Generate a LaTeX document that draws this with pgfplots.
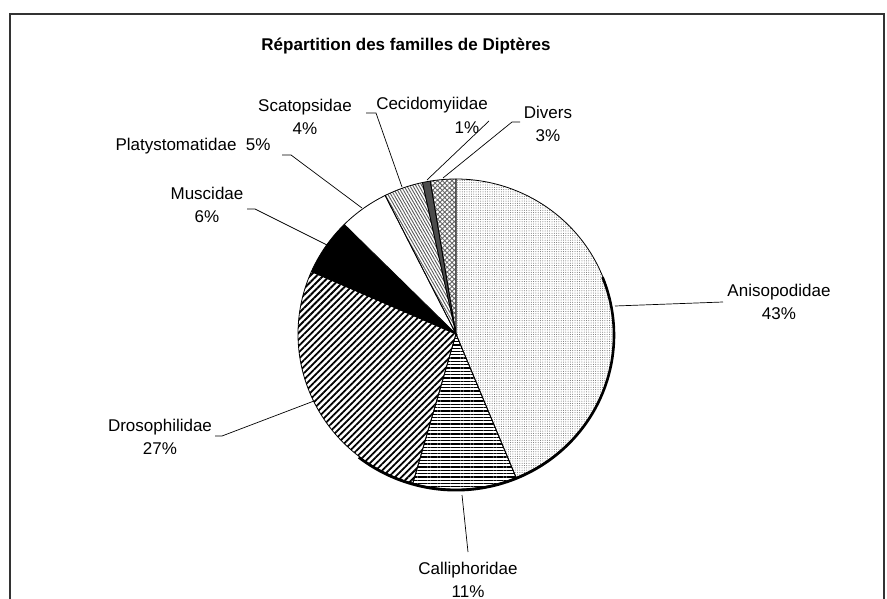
\documentclass[border=0pt]{standalone}
\usepackage{pgfplots}
\pgfplotsset{compat=1.18}
\usepackage{fontspec}
\setmainfont{Liberation Sans}
\usetikzlibrary{patterns,patterns.meta}

% shares (percent)
\def\pAniso{43.8}
\def\pCalli{10.6}
\def\pDroso{27.2}
\def\pMusc{5.9}
\def\pPlaty{5.1}
\def\pScato{4.0}
\def\pCecid{0.8}
\def\pDivers{2.6}

\pgfmathsetmacro\aA{90}
\pgfmathsetmacro\aB{\aA-3.6*\pAniso}
\pgfmathsetmacro\aC{\aB-3.6*\pCalli}
\pgfmathsetmacro\aD{\aC-3.6*\pDroso}
\pgfmathsetmacro\aE{\aD-3.6*\pMusc}
\pgfmathsetmacro\aF{\aE-3.6*\pPlaty}
\pgfmathsetmacro\aG{\aF-3.6*\pScato}
\pgfmathsetmacro\aH{\aG-3.6*\pCecid}
\pgfmathsetmacro\aI{\aH-3.6*\pDivers}

\def\cx{456}\def\cy{334}\def\rx{158}\def\ry{155}

\newcommand\slice[3]{%
  \addplot[#3, domain=#1:#2, samples=90, variable=\t]
    ({\cx+\rx*cos(t)},{\cy-\ry*sin(t)}) -- (axis cs:\cx,\cy) -- cycle;}

\begin{document}
\begin{tikzpicture}
\begin{axis}[
  x=1pt, y=1pt, y dir=reverse,
  xmin=0, xmax=887, ymin=0, ymax=599,
  hide axis, clip=true,
  scale only axis,
]
\path (rel axis cs:0,0) rectangle (rel axis cs:1,1);
% frame
\draw[black!80, line width=1.4pt] (axis cs:10,620) -- (axis cs:10,14) -- (axis cs:884,14) -- (axis cs:884,620);

% slices
\slice{\aA}{\aB}{draw=black, line width=0.8pt, pattern={Dots[radius=0.5pt,distance=2.3pt]}, pattern color=black!60}
\slice{\aB}{\aC}{draw=black, line width=0.8pt, pattern={Lines[angle=0,distance=3.3pt,line width=1.3pt]}, pattern color=black}
\slice{\aC}{\aD}{draw=black, line width=0.8pt, pattern={Lines[angle=45,distance=4.6pt,line width=1.8pt]}, pattern color=black}
\slice{\aD}{\aE}{draw=black, line width=0.8pt, fill=black}
\slice{\aE}{\aF}{draw=black, line width=0.8pt, fill=white}
\slice{\aF}{\aG}{draw=black, line width=0.8pt, pattern={Lines[angle=-60,distance=2.6pt,line width=0.9pt]}, pattern color=black!65}
\slice{\aG}{\aH}{draw=black, line width=0.8pt, fill=black!70}
\slice{\aH}{\aI}{draw=black, line width=0.8pt, pattern={Hatch[angle=45,distance=3.4pt,line width=0.9pt]}, pattern color=black!60}

% thicker lower rim (3-D edge)
\addplot[black, line width=2.6pt, domain=22:-128, samples=90, variable=\t]
  ({\cx+\rx*cos(t)},{\cy+1.2-\ry*sin(t)});

% leader lines
\draw[black, line width=0.7pt] (axis cs:615,306) -- (axis cs:723,302);
\draw[black, line width=0.7pt] (axis cs:462,495) -- (axis cs:468,552);
\draw[black, line width=0.7pt] (axis cs:215,436) -- (axis cs:222,436) -- (axis cs:314,401);
\draw[black, line width=0.7pt] (axis cs:247,209) -- (axis cs:255,209) -- (axis cs:327,245);
\draw[black, line width=0.7pt] (axis cs:282,155) -- (axis cs:291,155) -- (axis cs:362,208);
\draw[black, line width=0.7pt] (axis cs:366,113) -- (axis cs:376,113) -- (axis cs:402,187);
\draw[black, line width=0.7pt] (axis cs:489,121) -- (axis cs:427,180);
\draw[black, line width=0.7pt] (axis cs:520,122) -- (axis cs:512,122) -- (axis cs:443,178);

% labels
\begin{scope}[every node/.style={align=center, font=\fontsize{17}{23}\selectfont, inner sep=0pt}]
\node at (axis cs:406,46) {\bfseries Répartition des familles de Diptères};
\node at (axis cs:779,301.5) {Anisopodidae\\43\%};
\node at (axis cs:468,579.5) {Calliphoridae\\11\%};
\node at (axis cs:160,436.5) {Drosophilidae\\27\%};
\node at (axis cs:207,204.5) {Muscidae\\6\%};
\node at (axis cs:193,146) {Platystomatidae\ \ 5\%};
\node at (axis cs:305,116.5) {Scatopsidae\\4\%};
\node at (axis cs:432,105) {Cecidomyiidae};
\node at (axis cs:467,128) {1\%};
\node at (axis cs:548,123.5) {Divers\\3\%};
\end{scope}
\end{axis}
\end{tikzpicture}
\end{document}
